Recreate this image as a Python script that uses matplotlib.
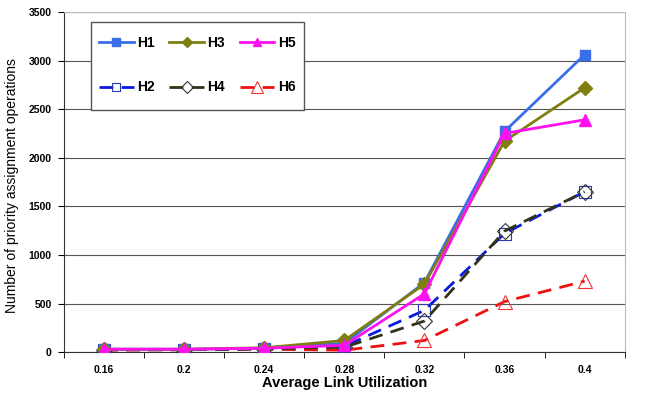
import numpy as np
import matplotlib.pyplot as plt
from matplotlib.patches import Rectangle

plt.rcParams["font.family"] = ["Liberation Sans", "DejaVu Sans"]

utilization = ["0.16", "0.2", "0.24", "0.28", "0.32", "0.36", "0.4"]

h1 = [30, 30, 40, 90, 715, 2270, 3060]
h2 = [25, 25, 35, 60, 430, 1220, 1650]
h3 = [30, 30, 45, 120, 700, 2170, 2720]
h4 = [25, 25, 35, 50, 320, 1245, 1650]
h5 = [30, 30, 40, 70, 600, 2250, 2390]
h6 = [20, 25, 30, 20, 120, 520, 730]

fig = plt.figure(figsize=(6.46, 3.97), dpi=100)
ax = fig.add_axes([0.099, 0.113, 0.868, 0.857])

x = np.arange(len(utilization))

# solid series (filled markers) and dashed series (open markers)
ax.plot(x, h1, color="#3a6ee8", lw=2, marker="s", ms=7, label="H1", zorder=5)
ax.plot(x, h2, color="#0a1adc", lw=2, ls=(0, (5, 3)), marker="s", ms=8,
        mfc="none", mec="#2a3ab0", mew=0.8, label="H2", zorder=4)
ax.plot(x, h3, color="#7f7f10", lw=2, marker="D", ms=7, label="H3", zorder=5)
ax.plot(x, h4, color="#333318", lw=2, ls=(0, (5, 3)), marker="D", ms=8,
        mfc="none", mec="#333333", mew=0.8, label="H4", zorder=4)
ax.plot(x, h5, color="#ff10ee", lw=2, marker="^", ms=8, label="H5", zorder=6)
ax.plot(x, h6, color="#ee1010", lw=2, ls=(0, (5, 3)), marker="^", ms=10,
        mfc="none", mec="#ee3333", mew=0.8, label="H6", zorder=3)

ax.set_xlim(-0.5, len(utilization) - 0.5)
ax.set_ylim(0, 3500)
ax.set_yticks(np.arange(0, 3501, 500))
ax.set_xticks(x)
ax.set_xticklabels(utilization, fontsize=7.5, fontweight="bold")
ax.set_xticks(np.arange(-0.5, len(utilization)), minor=True)
ax.tick_params(axis="x", which="major", length=0, pad=9)
ax.tick_params(axis="x", which="minor", length=4, direction="out")
ax.tick_params(axis="y", length=4, labelsize=7.5, pad=5)
for lbl in ax.get_yticklabels():
    lbl.set_fontweight("bold")

ax.yaxis.grid(True, color="#555555", lw=0.8)
ax.set_axisbelow(True)
for side in ["top", "right"]:
    ax.spines[side].set_color("#bbbbbb")
ax.spines["left"].set_color("#333333")
ax.spines["bottom"].set_color("#333333")

ax.set_xlabel("Average Link Utilization", fontsize=10.5, fontweight="bold", labelpad=1)
ax.set_ylabel("Number of priority assignment operations", fontsize=10, labelpad=4)
ax.yaxis.set_label_coords(-0.08, 0.49)

# legend box drawn separately (wide vertical padding like the original)
box = Rectangle((0.048, 0.712), 0.380, 0.259, transform=ax.transAxes,
                facecolor="white", edgecolor="#555555", lw=1, zorder=9)
ax.add_patch(box)
leg = ax.legend(ncol=3, loc="upper left", bbox_to_anchor=(0.05, 0.95),
                prop={"weight": "bold", "size": 10}, frameon=False,
                handlelength=2.5, columnspacing=1.05, labelspacing=2.2,
                borderpad=0.5, borderaxespad=0, handletextpad=0.25,
                markerscale=0.8)
leg.set_zorder(10)

fig.savefig("out.png", dpi=100)
